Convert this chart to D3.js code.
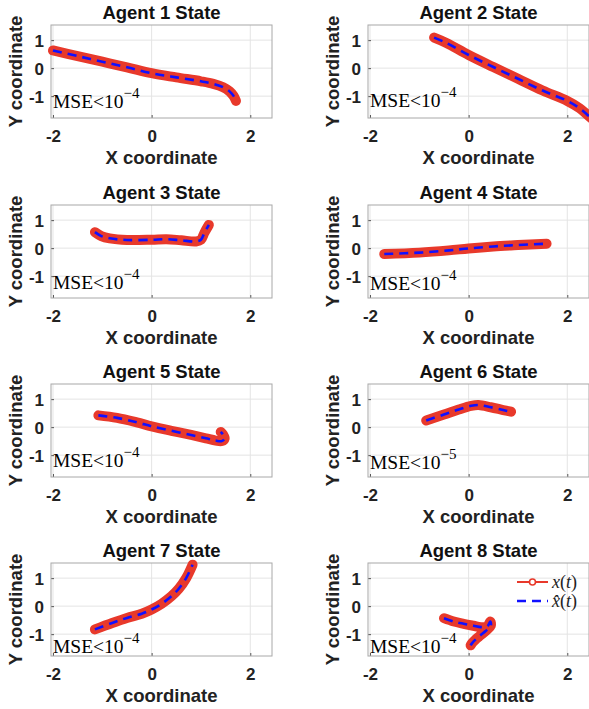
<!DOCTYPE html>
<html>
<head>
<meta charset="utf-8">
<script src="https://cdn.jsdelivr.net/npm/d3@7"></script>
<style>
  html, body { margin: 0; padding: 0; background: #fff; }
  svg { display: block; }
</style>
</head>
<body>
<script>
// ---------------- data ----------------
const agentTitles = ["Agent 1 State","Agent 2 State","Agent 3 State","Agent 4 State",
                     "Agent 5 State","Agent 6 State","Agent 7 State","Agent 8 State"];
const xTicks = [-2, 0, 2];
const yTicks = [-1, 0, 1];
const xDomain = [-2.04, 2.44];
const yDomain = [-1.78, 1.54];
const mseExponents = ["−4","−4","−4","−4","−4","−5","−4","−4"];
const mseY = [-1.42, -1.37, -1.45, -1.49, -1.44, -1.49, -1.68, -1.67];

const agent1X = [-2.0, -1.5, -1.0, -0.5, 0.0, 0.5, 1.0, 1.25, 1.45, 1.58, 1.66, 1.71];
const agent1Y = [0.63, 0.43, 0.23, 0.03, -0.18, -0.33, -0.47, -0.56, -0.68, -0.83, -0.99, -1.17];
const agent2X = [-0.7, -0.45, 0.0, 0.5, 1.0, 1.5, 2.0, 2.25, 2.45, 2.6];
const agent2Y = [1.09, 0.9, 0.47, 0.04, -0.38, -0.8, -1.17, -1.43, -1.73, -1.95];
const agent3X = [-1.15, -1.02, -0.85, -0.5, 0.0, 0.3, 0.6, 0.9, 1.0, 1.07, 1.16];
const agent3Y = [0.57, 0.43, 0.35, 0.29, 0.3, 0.32, 0.28, 0.24, 0.3, 0.55, 0.83];
const agent4X = [-1.71, -1.0, -0.4, 0.0, 0.5, 1.0, 1.58];
const agent4Y = [-0.21, -0.16, -0.08, -0.01, 0.06, 0.11, 0.16];
const agent5X = [-1.08, -0.7, -0.3, 0.0, 0.4, 0.8, 1.1, 1.3, 1.42, 1.48, 1.45, 1.4];
const agent5Y = [0.42, 0.33, 0.17, 0.03, -0.13, -0.28, -0.4, -0.48, -0.5, -0.4, -0.27, -0.17];
const agent6X = [-0.86, -0.5, -0.2, 0.05, 0.2, 0.45, 0.7, 0.86];
const agent6Y = [0.24, 0.45, 0.63, 0.76, 0.79, 0.71, 0.61, 0.55];
const agent7X = [-1.15, -0.8, -0.5, -0.2, 0.0, 0.2, 0.4, 0.55, 0.7, 0.83];
const agent7Y = [-0.83, -0.6, -0.42, -0.27, -0.12, 0.08, 0.35, 0.62, 1.0, 1.48];
const agent8X = [-0.5, -0.3, -0.1, 0.1, 0.25, 0.38, 0.44, 0.45, 0.35, 0.2, 0.08, 0.04];
const agent8Y = [-0.43, -0.55, -0.63, -0.7, -0.75, -0.72, -0.55, -0.7, -0.88, -1.1, -1.3, -1.4];

const agentXs = [agent1X, agent2X, agent3X, agent4X, agent5X, agent6X, agent7X, agent8X];
const agentYs = [agent1Y, agent2Y, agent3Y, agent4Y, agent5Y, agent6Y, agent7Y, agent8Y];

const legendLabels = [["x", "(", "t", ")"], ["x̂", "(", "t", ")"]];

// ---------------- layout ----------------
const W = 589, H = 709;
const colX = [51, 368];
const rowY = [25, 205, 384, 563];
const pw = 221, ph = 93;
const red = "#e8392b", blue = "#1010ff";
const sans = "'Liberation Sans', Arial, Helvetica, sans-serif";
const serif = "'Liberation Serif', 'Times New Roman', serif";

const svg = d3.select("body").append("svg").attr("width", W).attr("height", H);

agentTitles.forEach((title, i) => {
  const col = i % 2, row = Math.floor(i / 2);
  const x0 = colX[col], y0 = rowY[row];
  const x = d3.scaleLinear().domain(xDomain).range([0, pw]);
  const y = d3.scaleLinear().domain(yDomain).range([ph, 0]);
  const g = svg.append("g").attr("transform", `translate(${x0},${y0})`);

  g.append("rect").attr("width", pw).attr("height", ph).attr("fill", "#fff");

  // grid
  g.selectAll(".gx").data(xTicks).join("line")
    .attr("x1", d => x(d)).attr("x2", d => x(d)).attr("y1", 0).attr("y2", ph)
    .attr("stroke", "#e4e4e4").attr("stroke-width", 1);
  g.selectAll(".gy").data(yTicks).join("line")
    .attr("y1", d => y(d)).attr("y2", d => y(d)).attr("x1", 0).attr("x2", pw)
    .attr("stroke", "#e4e4e4").attr("stroke-width", 1);

  // axes
  const xAxis = d3.axisBottom(x).tickValues(xTicks).tickSize(-3).tickSizeOuter(0)
    .tickFormat(d => d < 0 ? "-" + Math.abs(d) : d);
  const yAxis = d3.axisLeft(y).tickValues(yTicks).tickSize(-3).tickSizeOuter(0)
    .tickFormat(d => d < 0 ? "-" + Math.abs(d) : d);
  const gx = g.append("g").attr("transform", `translate(0,${ph})`).call(xAxis);
  const gy = g.append("g").call(yAxis);
  [gx, gy].forEach(a => {
    a.select(".domain").remove();
    a.selectAll(".tick line").attr("stroke", "#555");
    a.selectAll(".tick text").attr("font-family", sans).attr("font-weight", "bold")
      .attr("font-size", 17).attr("fill", "#222");
  });
  gx.selectAll(".tick text").attr("y", 12).attr("dy", "0.71em");
  gy.selectAll(".tick text").attr("x", -7).attr("dy", "0.36em");

  // box
  g.append("rect").attr("width", pw).attr("height", ph).attr("fill", "none")
    .attr("stroke", "#a8a8a8").attr("stroke-width", 1);

  // clip
  const cid = "clip" + i;
  g.append("clipPath").attr("id", cid).append("rect")
    .attr("x", -6).attr("y", -6).attr("width", pw + 12).attr("height", ph + 12);

  const pts = agentXs[i].map((v, k) => [v, agentYs[i][k]]);
  const line = d3.line().x(d => x(d[0])).y(d => y(d[1])).curve(d3.curveCatmullRom.alpha(0.5));
  const plot = g.append("g").attr("clip-path", `url(#${cid})`);
  plot.append("path").attr("d", line(pts)).attr("fill", "none")
    .attr("stroke", red).attr("stroke-width", 10)
    .attr("stroke-linecap", "round").attr("stroke-linejoin", "round");
  plot.append("path").attr("d", line(pts)).attr("fill", "none")
    .attr("stroke", blue).attr("stroke-width", 2.6)
    .attr("stroke-dasharray", "9,6");

  // title
  g.append("text").attr("x", pw / 2).attr("y", -12).attr("dy", "0.35em")
    .attr("text-anchor", "middle").attr("font-family", sans).attr("font-weight", "bold")
    .attr("font-size", 18.5).attr("fill", "#111").text(title);
  // x label
  g.append("text").attr("x", pw / 2).attr("y", ph + 40).attr("dy", "0.35em")
    .attr("text-anchor", "middle").attr("font-family", sans).attr("font-weight", "bold")
    .attr("font-size", 18.5).attr("fill", "#222").text("X coordinate");
  // y label
  g.append("text").attr("transform", `translate(${-35},${ph / 2}) rotate(-90)`)
    .attr("dy", "0.35em")
    .attr("text-anchor", "middle").attr("font-family", sans).attr("font-weight", "bold")
    .attr("font-size", 18.5).attr("fill", "#222").text("Y coordinate");

  // MSE text
  const t = g.append("text").attr("x", 2).attr("y", y(mseY[i]))
    .attr("font-family", serif).attr("font-size", 19.5).attr("fill", "#000");
  t.append("tspan").text("MSE<10");
  t.append("tspan").attr("dy", -10).attr("font-size", 15).text(mseExponents[i]);

  // legend (last panel)
  if (i === 7) {
    const lx = 149, ly = [19, 38];
    const lg = g.append("g");
    lg.append("line").attr("x1", lx).attr("x2", lx + 31).attr("y1", ly[0]).attr("y2", ly[0])
      .attr("stroke", red).attr("stroke-width", 2);
    lg.append("circle").attr("cx", lx + 15.5).attr("cy", ly[0]).attr("r", 3)
      .attr("fill", "#fff").attr("stroke", red).attr("stroke-width", 1.6);
    lg.append("line").attr("x1", lx).attr("x2", lx + 31).attr("y1", ly[1]).attr("y2", ly[1])
      .attr("stroke", blue).attr("stroke-width", 2.6).attr("stroke-dasharray", "9,6");
    legendLabels.forEach((parts, k) => {
      const lt = lg.append("text").attr("x", lx + 35).attr("y", ly[k]).attr("dy", "0.33em")
        .attr("font-family", serif).attr("font-size", 18).attr("fill", "#222");
      parts.forEach((p, j) => {
        lt.append("tspan").attr("font-style", (j === 0 || j === 2) ? "italic" : "normal").text(p);
      });
    });
  }
});
</script>
</body>
</html>
